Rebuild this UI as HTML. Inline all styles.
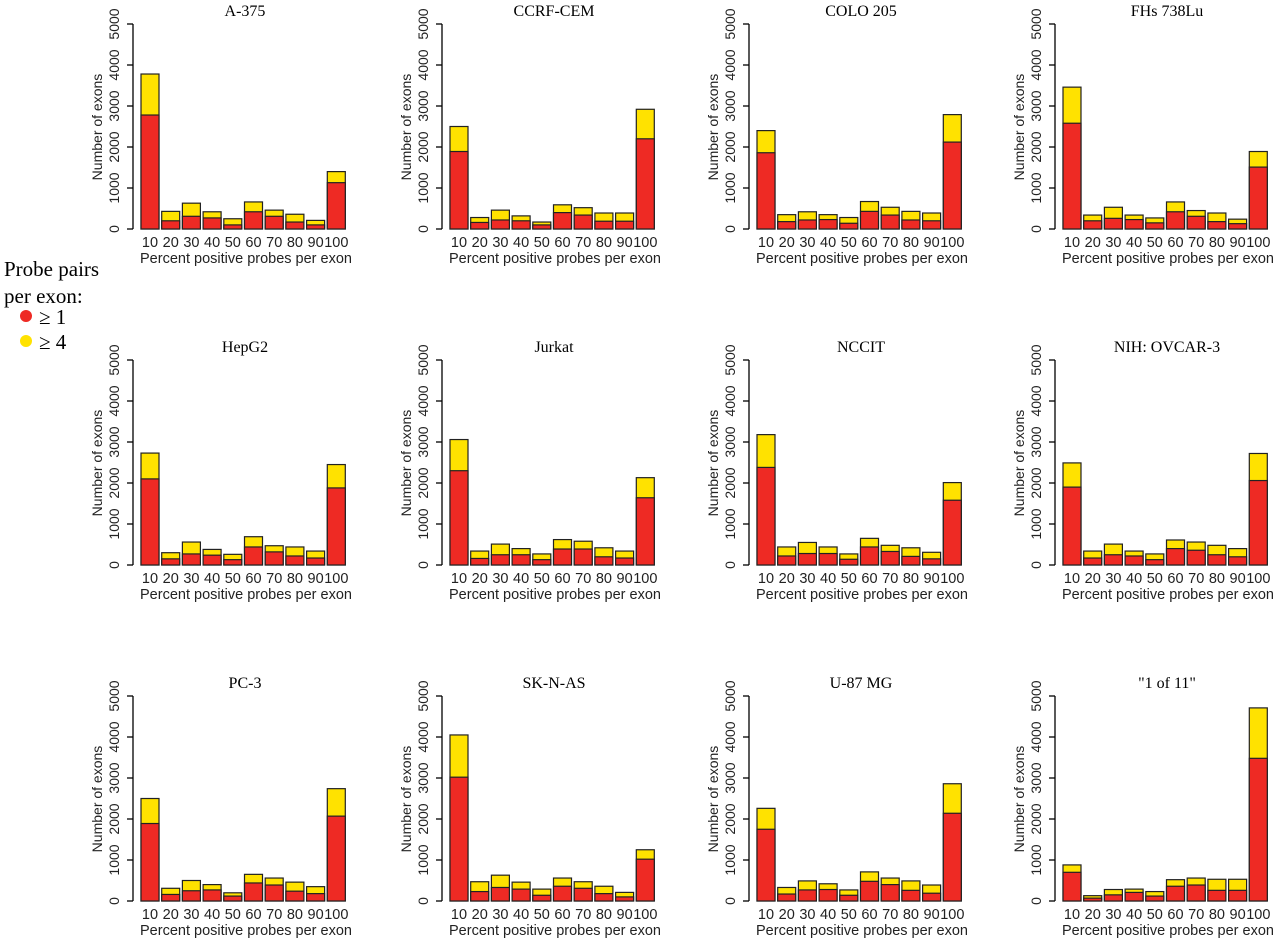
<!DOCTYPE html>
<html><head><meta charset="utf-8"><style>
body{margin:0;background:#fff;width:1280px;height:944px;overflow:hidden}
svg text{font-family:"Liberation Sans",sans-serif}
svg text.serif{font-family:"Liberation Serif",serif}
</style></head><body>
<svg id="chart" width="1280" height="944" xmlns="http://www.w3.org/2000/svg">
<g>
<text class="serif" x="4" y="276" font-size="21">Probe pairs</text>
<text class="serif" x="4" y="303" font-size="21">per exon:</text>
<circle cx="26" cy="316" r="6" fill="#ee2a24"/>
<text class="serif" x="39" y="324" font-size="21">≥ 1</text>
<circle cx="26" cy="341" r="6" fill="#ffe200"/>
<text class="serif" x="39" y="349" font-size="21">≥ 4</text>
</g>
</svg>
<script>
const titles=["A-375","CCRF-CEM","COLO 205","FHs 738Lu","HepG2","Jurkat","NCCIT","NIH: OVCAR-3","PC-3","SK-N-AS","U-87 MG","\"1 of 11\""];
const categories=["10","20","30","40","50","60","70","80","90","100"];
const yTicks=[0,1000,2000,3000,4000,5000];
const totals=[
[3780,430,630,420,250,660,460,360,210,1400],
[2500,280,460,320,170,590,520,390,390,2920],
[2400,350,420,350,280,670,530,430,390,2790],
[3460,340,530,340,270,660,450,390,240,1890],
[2730,300,560,380,260,690,470,440,340,2450],
[3060,340,510,400,270,620,580,420,340,2130],
[3180,440,550,440,270,650,480,420,310,2010],
[2490,340,510,340,270,610,560,480,400,2720],
[2500,310,500,400,200,650,560,460,350,2740],
[4050,470,630,460,290,560,470,360,210,1250],
[2260,330,490,420,270,710,560,490,390,2860],
[880,130,280,290,230,520,560,530,530,4710]];
const reds=[
[2780,200,310,270,100,420,310,170,100,1130],
[1890,160,220,200,100,400,340,190,190,2200],
[1860,180,220,230,140,430,340,220,200,2120],
[2580,200,260,230,150,420,310,180,130,1510],
[2100,150,270,240,130,440,320,220,170,1880],
[2300,160,250,250,130,390,390,200,170,1640],
[2380,220,280,280,140,440,330,210,150,1580],
[1900,170,250,220,130,400,360,250,200,2060],
[1890,160,250,270,120,440,390,240,180,2070],
[3020,230,330,290,140,360,310,180,100,1020],
[1750,170,270,280,140,480,400,260,190,2140],
[700,70,150,210,120,360,390,260,260,3480]];
const NS="http://www.w3.org/2000/svg";
const svg=document.getElementById('chart');
const axX=[133,442,749,1055], axY0=[229,565,901];
function mk(tag,attrs,parent){const e=document.createElementNS(NS,tag);for(const k in attrs)e.setAttribute(k,attrs[k]);parent.appendChild(e);return e;}
titles.forEach((t,p)=>{
  const ox=axX[p%4], oy=axY0[Math.floor(p/4)];
  const yS=v=>oy-v*205/5000;
  const xS=i=>ox+8+i*20.7;
  const g=mk('g',{},svg);
  
  
  const tt=mk('text',{class:'serif',x:ox+112,y:oy-213,'text-anchor':'middle','font-size':16},g);
  tt.textContent=t;
  
  
  const ax=mk('line',{x1:ox,x2:ox,y1:yS(0),y2:yS(5000),stroke:'#000','stroke-width':1.3},g);
  
  
  yTicks.forEach(v=>{
    const tk=mk('line',{x1:ox-6,x2:ox,y1:yS(v),y2:yS(v),stroke:'#000','stroke-width':1.3},g);
    
    
    const y=yS(v);
    const tl=mk('text',{x:ox-14,y:y,'text-anchor':'middle','font-size':14,fill:'#222',transform:`rotate(-90 ${ox-14} ${y})`},g);
    tl.textContent=v;
    
    
  });
  const yl=mk('text',{x:ox-31,y:oy-102,'text-anchor':'middle','font-size':14,fill:'#222',transform:`rotate(-90 ${ox-31} ${oy-102})`},g);
  yl.textContent='Number of exons';
  
  
  categories.forEach((c,i)=>{
    const x=xS(i);
    const yb=mk('rect',{x:x,y:yS(totals[p][i]),width:18,height:yS(0)-yS(totals[p][i]),fill:'#ffe200',stroke:'#222','stroke-width':1.2},g);
    
    
    const rb=mk('rect',{x:x,y:yS(reds[p][i]),width:18,height:yS(0)-yS(reds[p][i]),fill:'#ee2a24',stroke:'#222','stroke-width':1.2},g);
    
    
    const xl=mk('text',{x:x+9,y:oy+18,'text-anchor':'middle','font-size':14.5,fill:'#222'},g);
    xl.textContent=c;
    
    
  });
  const xt=mk('text',{x:ox+113,y:oy+34,'text-anchor':'middle','font-size':14.5,fill:'#222'},g);
  xt.textContent='Percent positive probes per exon';
  
  
});
</script>
</body></html>
